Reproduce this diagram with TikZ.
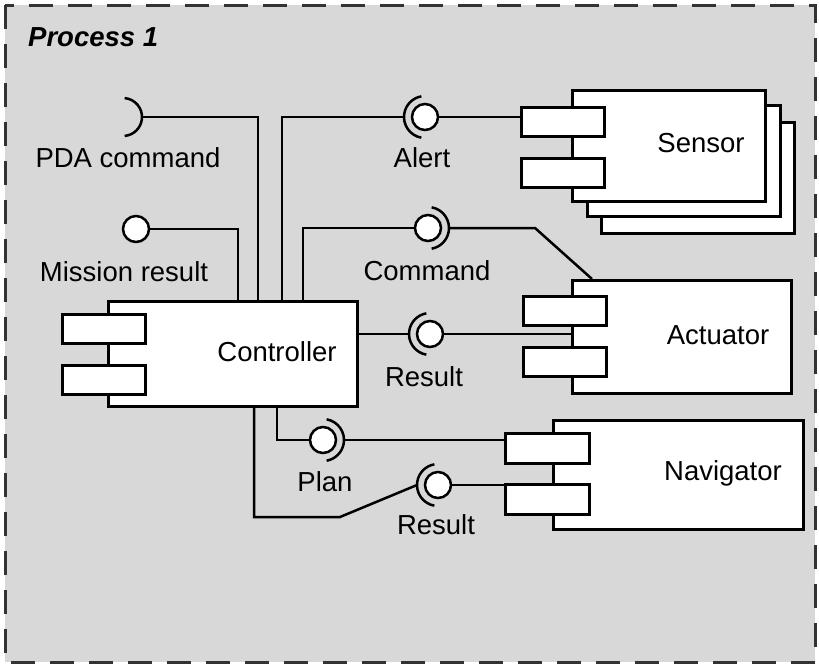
\documentclass[tikz,border=0pt]{standalone}
\usepackage{fontspec}
\setmainfont{Liberation Sans}
\definecolor{procfill}{HTML}{D8D8D8}
\definecolor{procedge}{HTML}{333333}
\begin{document}
\begin{tikzpicture}[x=1pt,y=-1pt,
  font=\fontsize{27.5}{33}\selectfont,
  wire/.style={draw=black, line width=2.5pt},
  comp/.style={draw=black, fill=white, line width=3pt, rectangle, inner sep=0pt, anchor=north west},
  port/.style={comp, minimum width=83pt, minimum height=29pt},
  ball/.style={circle, draw=black, fill=white, line width=2.5pt, minimum size=26pt, inner sep=0pt},
  lbl/.style={inner sep=0pt, anchor=center}]
\useasboundingbox (0,0) rectangle (819,665);

% process frame
\draw[procedge, fill=procfill, line width=3pt, dash pattern=on 24pt off 15pt]
  (5,5) rectangle (815,662);
\node[lbl, anchor=west, font=\fontsize{27.5}{33}\selectfont\bfseries\itshape] (proc) at (28,37) {Process 1};

% components
\node[comp, minimum width=249pt, minimum height=105pt] (ctrl) at (107,300) {};
\node[port] (cport1) at (61,313) {};
\node[port] (cport2) at (61,364) {};
\node[lbl] (ctrllbl) at (277,352) {Controller};

\node[comp, minimum width=193pt, minimum height=111pt] (sens3) at (600,121) {};
\node[comp, minimum width=193pt, minimum height=111pt] (sens2) at (586,104) {};
\node[comp, minimum width=193pt, minimum height=111pt] (sens) at (571,89) {};
\node[port] (sport1) at (520,106) {};
\node[port] (sport2) at (520,157) {};
\node[lbl] (senslbl) at (701,143) {Sensor};

\node[comp, minimum width=219pt, minimum height=113pt] (act) at (571,279) {};
\node[port] (aport1) at (522,295) {};
\node[port] (aport2) at (522,346) {};
\node[lbl] (actlbl) at (718,335) {Actuator};

\node[comp, minimum width=250pt, minimum height=109pt] (nav) at (552,419) {};
\node[port, minimum width=84pt, minimum height=30pt] (nport1) at (504,432) {};
\node[port, minimum width=84pt, minimum height=30pt] (nport2) at (504,483) {};
\node[lbl] (navlbl) at (723,473) {Navigator};

% provided interfaces (balls)
\node[ball] (mball) at (136,229) {};
\node[ball] (aball) at (425,117) {};
\node[ball] (cball) at (428,228) {};
\node[ball] (rball) at (430,334) {};
\node[ball] (pball) at (323,440) {};
\node[ball] (nball) at (438,485) {};

% required interfaces (sockets)
\coordinate (pdasock) at (123,117);
\draw[wire] ([shift={(-85:19)}]pdasock) arc[start angle=-85, end angle=85, radius=19];
\draw[wire] ([shift={(100:21)}]aball.center) arc[start angle=100, end angle=260, radius=21];
\draw[wire] ([shift={(-80:21)}]cball.center) arc[start angle=-80, end angle=80, radius=21];
\draw[wire] ([shift={(100:21)}]rball.center) arc[start angle=100, end angle=260, radius=21];
\draw[wire] ([shift={(-80:21)}]pball.center) arc[start angle=-80, end angle=80, radius=21];
\draw[wire] ([shift={(100:21)}]nball.center) arc[start angle=100, end angle=260, radius=21];

\coordinate (pdatip) at ([xshift=19pt]pdasock);
\coordinate (alerttip) at ([xshift=-21pt]aball.center);
\coordinate (cmdtip) at ([xshift=21pt]cball.center);
\coordinate (restip) at ([xshift=-21pt]rball.center);
\coordinate (plantip) at ([xshift=21pt]pball.center);
\coordinate (navtip) at ([xshift=-21pt]nball.center);

% connectors
\draw[wire] (pdatip) -| ([xshift=151pt]ctrl.north west);
\draw[wire] (mball.east) -| ([xshift=131pt]ctrl.north west);
\draw[wire] ([xshift=175pt]ctrl.north west) |- (alerttip);
\draw[wire] (aball.east) -- (aball.east -| sport1.west);
\draw[wire] ([xshift=196pt]ctrl.north west) |- (cball.west);
\draw[wire] (cmdtip) -- (535,228) -- ([xshift=21pt]act.north west);
\draw[wire] (ctrl.east |- restip) -- (restip);
\draw[wire] (rball.east) -- (rball.east -| act.west);
\draw[wire] ([xshift=170pt]ctrl.south west) |- (pball.west);
\draw[wire] (plantip) -- (plantip -| nport1.west);
\draw[wire] ([xshift=147pt]ctrl.south west) |- (340,517) -- (navtip);
\draw[wire] (nball.east) -- (nball.east -| nport2.west);

% interface labels
\node[lbl] (pdalbl) at (128,158) {PDA command};
\node[lbl] (mislbl) at (124,272) {Mission result};
\node[lbl] (alertlbl) at (422,158) {Alert};
\node[lbl] (cmdlbl) at (427,271) {Command};
\node[lbl] (reslbl) at (424,377) {Result};
\node[lbl] (planlbl) at (325,482) {Plan};
\node[lbl] (navreslbl) at (436,525) {Result};
\end{tikzpicture}
\end{document}
